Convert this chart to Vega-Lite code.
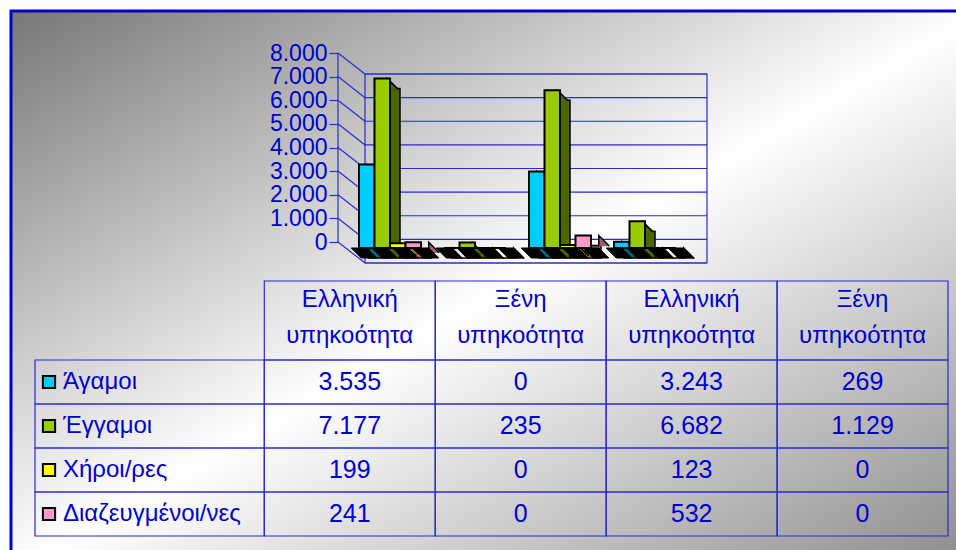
{
  "$schema": "https://vega.github.io/schema/vega-lite/v6.json",
  "width": 945,
  "height": 539,
  "autosize": {"type": "none"},
  "padding": {"left": 11, "top": 11, "right": 0, "bottom": 0},
  "background": "#ffffff",
  "config": {
    "view": {"stroke": "transparent", "strokeWidth": 0},
    "font": "Liberation Sans",
    "locale": {"number": {"decimal": ",", "thousands": ".", "grouping": [3], "currency": ["", " €"]}}
  },
  "datasets": {
    "one": [{"k": 1}],
    "grid": [{"g": 0}, {"g": 1000}, {"g": 2000}, {"g": 3000}, {"g": 4000}, {"g": 5000}, {"g": 6000}, {"g": 7000}, {"g": 8000}],
    "cells": [
      {"col": "c1", "status": "Άγαμοι", "value": 3535},
      {"col": "c2", "status": "Άγαμοι", "value": 0},
      {"col": "c3", "status": "Άγαμοι", "value": 3243},
      {"col": "c4", "status": "Άγαμοι", "value": 269},
      {"col": "c1", "status": "Έγγαμοι", "value": 7177},
      {"col": "c2", "status": "Έγγαμοι", "value": 235},
      {"col": "c3", "status": "Έγγαμοι", "value": 6682},
      {"col": "c4", "status": "Έγγαμοι", "value": 1129},
      {"col": "c1", "status": "Χήροι/ρες", "value": 199},
      {"col": "c2", "status": "Χήροι/ρες", "value": 0},
      {"col": "c3", "status": "Χήροι/ρες", "value": 123},
      {"col": "c4", "status": "Χήροι/ρες", "value": 0},
      {"col": "c1", "status": "Διαζευγμένοι/νες", "value": 241},
      {"col": "c2", "status": "Διαζευγμένοι/νες", "value": 0},
      {"col": "c3", "status": "Διαζευγμένοι/νες", "value": 532},
      {"col": "c4", "status": "Διαζευγμένοι/νες", "value": 0}
    ],
    "headers": [
      {"col": "c1", "h": "Ελληνική\nυπηκοότητα"},
      {"col": "c2", "h": "Ξένη\nυπηκοότητα"},
      {"col": "c3", "h": "Ελληνική\nυπηκοότητα"},
      {"col": "c4", "h": "Ξένη\nυπηκοότητα"}
    ]
  },
  "layer": [
    {
      "data": {"name": "one"},
      "mark": {"type": "rect", "stroke": "#0000cc", "strokeWidth": 3, "fill": {"gradient": "linear", "x1": 0, "y1": 0, "x2": 1, "y2": 1, "stops": [{"offset": 0, "color": "#777777"}, {"offset": 0.5, "color": "#ffffff"}, {"offset": 1, "color": "#888888"}]}},
      "encoding": {
        "x": {"datum": 0, "type": "quantitative", "scale": {"domain": [0, 1], "nice": false}, "axis": null},
        "x2": {"datum": 1.03},
        "y": {"datum": -0.04, "type": "quantitative", "scale": {"domain": [0, 1], "nice": false}, "axis": null},
        "y2": {"datum": 1}
      }
    },
    {
      "data": {"name": "one"},
      "mark": {"type": "rect", "fill": "transparent", "stroke": "#2a2ad0", "strokeWidth": 1.2},
      "encoding": {
        "x": {"datum": 0, "type": "quantitative", "scale": {"domain": [0, 1], "range": [354, 696], "nice": false}, "axis": null},
        "x2": {"datum": 1},
        "y": {"datum": 0, "type": "quantitative", "scale": {"domain": [0, 8000], "range": [252, 63], "nice": false}, "axis": null},
        "y2": {"datum": 8000}
      }
    },
    {
      "data": {"name": "grid"},
      "mark": {"type": "rule", "stroke": "#2a2ad0", "strokeWidth": 1.2},
      "encoding": {
        "x": {"datum": 0, "type": "quantitative", "scale": {"domain": [0, 1], "range": [354, 696], "nice": false}, "axis": null},
        "x2": {"datum": 1},
        "y": {"field": "g", "type": "quantitative", "scale": {"domain": [0, 8000], "range": [252, 63], "nice": false}, "axis": null}
      }
    },
    {
      "data": {"name": "grid"},
      "mark": {"type": "point", "shape": "M-1,-0.78L1,0.78", "size": 729, "filled": false, "stroke": "#2a2ad0", "strokeWidth": 1.2, "opacity": 1},
      "encoding": {
        "x": {"datum": 0.5, "type": "quantitative", "scale": {"domain": [0, 1], "range": [327, 354], "nice": false}, "axis": null},
        "y": {"field": "g", "type": "quantitative", "scale": {"domain": [0, 8000], "range": [241.5, 52.5], "nice": false}, "axis": null}
      }
    },
    {
      "data": {"name": "one"},
      "mark": {"type": "rule", "stroke": "#2a2ad0", "strokeWidth": 1.2},
      "encoding": {
        "x": {"datum": 0, "type": "quantitative", "scale": {"domain": [0, 1], "range": [327, 354], "nice": false}, "axis": null},
        "y": {"datum": 0, "type": "quantitative", "scale": {"domain": [0, 8000], "range": [231, 42], "nice": false},
          "axis": {"orient": "left", "offset": -327, "zindex": 2, "values": [0, 1000, 2000, 3000, 4000, 5000, 6000, 7000, 8000], "format": ",d", "labelFontSize": 23, "labelColor": "#0000cc", "labelFont": "Liberation Sans", "tickColor": "#2a2ad0", "tickSize": 9, "tickWidth": 1.2, "domain": false, "grid": false, "labelPadding": 2, "labelOverlap": false, "labelFlush": false, "labelBound": false, "title": null}},
        "y2": {"datum": 8000}
      }
    },
    {
      "data": {"name": "cells"},
      "mark": {"type": "bar", "stroke": "#000000", "strokeWidth": 1.5},
      "encoding": {
        "x": {"field": "col", "type": "nominal", "scale": {"type": "band", "domain": ["c1", "c2", "c3", "c4"], "range": [358, 675], "paddingInner": 0.2706, "paddingOuter": 0}, "axis": null},
        "xOffset": {"field": "status", "type": "nominal", "scale": {"domain": ["Άγαμοι", "Έγγαμοι", "Χήροι/ρες", "Διαζευγμένοι/νες"], "paddingInner": 0, "paddingOuter": 0}},
        "y": {"field": "value", "type": "quantitative", "stack": null, "scale": {"domain": [0, 8000], "range": [247, 58.2], "nice": false}, "axis": null},
        "color": {"field": "status", "type": "nominal", "scale": {"domain": ["Άγαμοι", "Έγγαμοι", "Χήροι/ρες", "Διαζευγμένοι/νες"], "range": ["#006680", "#4d6600", "#808000", "#a05a78"]}, "legend": null}
      }
    },
    {
      "data": {"name": "cells"},
      "mark": {"type": "point", "shape": "M7.75,10.8L7.75,0L17.75,10L17.75,10.8", "size": 4, "filled": true, "stroke": "#000000", "strokeWidth": 1.5, "opacity": 1},
      "encoding": {
        "x": {"field": "col", "type": "nominal", "scale": {"type": "band", "domain": ["c1", "c2", "c3", "c4"], "range": [348, 665], "paddingInner": 0.2706, "paddingOuter": 0}, "axis": null},
        "xOffset": {"field": "status", "type": "nominal", "scale": {"domain": ["Άγαμοι", "Έγγαμοι", "Χήροι/ρες", "Διαζευγμένοι/νες"], "paddingInner": 0, "paddingOuter": 0}},
        "y": {"field": "value", "type": "quantitative", "scale": {"domain": [0, 8000], "range": [237, 48.2], "nice": false}, "axis": null},
        "fill": {"field": "status", "type": "nominal", "scale": {"domain": ["Άγαμοι", "Έγγαμοι", "Χήροι/ρες", "Διαζευγμένοι/νες"], "range": ["#006680", "#4d6600", "#808000", "#a05a78"]}, "legend": null}
      }
    },
    {
      "data": {"name": "cells"},
      "mark": {"type": "point", "shape": "M-7.75,0L7.75,0L17.75,10L2.25,10Z", "size": 4, "filled": true, "fill": "#000000", "stroke": "#000000", "strokeWidth": 1, "opacity": 1},
      "encoding": {
        "x": {"field": "col", "type": "nominal", "scale": {"type": "band", "domain": ["c1", "c2", "c3", "c4"], "range": [348, 665], "paddingInner": 0.2706, "paddingOuter": 0}, "axis": null},
        "xOffset": {"field": "status", "type": "nominal", "scale": {"domain": ["Άγαμοι", "Έγγαμοι", "Χήροι/ρες", "Διαζευγμένοι/νες"], "paddingInner": 0, "paddingOuter": 0}},
        "y": {"datum": 0, "type": "quantitative", "scale": {"domain": [0, 8000], "range": [237, 48.2], "nice": false}, "axis": null}
      }
    },
    {
      "data": {"name": "cells"},
      "mark": {"type": "bar", "stroke": "#000000", "strokeWidth": 2},
      "encoding": {
        "x": {"field": "col", "type": "nominal", "scale": {"type": "band", "domain": ["c1", "c2", "c3", "c4"], "range": [348, 665], "paddingInner": 0.2706, "paddingOuter": 0}, "axis": null},
        "xOffset": {"field": "status", "type": "nominal", "scale": {"domain": ["Άγαμοι", "Έγγαμοι", "Χήροι/ρες", "Διαζευγμένοι/νες"], "paddingInner": 0, "paddingOuter": 0}},
        "y": {"field": "value", "type": "quantitative", "stack": null, "scale": {"domain": [0, 8000], "range": [237, 48.2], "nice": false}, "axis": null},
        "color": {"field": "status", "type": "nominal", "scale": {"domain": ["Άγαμοι", "Έγγαμοι", "Χήροι/ρες", "Διαζευγμένοι/νες"], "range": ["#00ccff", "#99cc00", "#ffff00", "#ff99cc"]}, "legend": null}
      }
    },
    {
      "data": {"name": "cells"},
      "mark": {"type": "rect", "fill": "transparent", "stroke": "#2b2bd0", "strokeWidth": 1.2},
      "encoding": {
        "x": {"field": "col", "type": "nominal", "scale": {"type": "band", "domain": ["c1", "c2", "c3", "c4"], "range": [253.3, 937], "paddingInner": 0, "paddingOuter": 0}, "axis": null},
        "y": {"field": "status", "type": "nominal", "scale": {"type": "band", "domain": ["Άγαμοι", "Έγγαμοι", "Χήροι/ρες", "Διαζευγμένοι/νες"], "range": [349, 525], "paddingInner": 0, "paddingOuter": 0}, "axis": null}
      }
    },
    {
      "data": {"name": "headers"},
      "mark": {"type": "rect", "fill": "transparent", "stroke": "#2b2bd0", "strokeWidth": 1.2},
      "encoding": {
        "x": {"field": "col", "type": "nominal", "scale": {"type": "band", "domain": ["c1", "c2", "c3", "c4"], "range": [253.3, 937], "paddingInner": 0, "paddingOuter": 0}, "axis": null},
        "y": {"datum": "h", "type": "nominal", "scale": {"type": "band", "domain": ["h"], "range": [270, 349], "paddingInner": 0, "paddingOuter": 0}, "axis": null}
      }
    },
    {
      "data": {"name": "cells"},
      "transform": [{"filter": "datum.col == 'c1'"}],
      "mark": {"type": "rect", "fill": "transparent", "stroke": "#2b2bd0", "strokeWidth": 1.2},
      "encoding": {
        "x": {"datum": "l", "type": "nominal", "scale": {"type": "band", "domain": ["l"], "range": [24, 253.3], "paddingInner": 0, "paddingOuter": 0}, "axis": null},
        "y": {"field": "status", "type": "nominal", "scale": {"type": "band", "domain": ["Άγαμοι", "Έγγαμοι", "Χήροι/ρες", "Διαζευγμένοι/νες"], "range": [349, 525], "paddingInner": 0, "paddingOuter": 0}, "axis": null}
      }
    },
    {
      "data": {"name": "cells"},
      "transform": [{"filter": "datum.col == 'c1'"}],
      "mark": {"type": "point", "shape": "square", "size": 150, "filled": true, "stroke": "#000000", "strokeWidth": 2, "opacity": 1},
      "encoding": {
        "x": {"datum": 0, "type": "quantitative", "scale": {"domain": [0, 1], "range": [38, 39], "nice": false}, "axis": null},
        "y": {"field": "status", "type": "nominal", "scale": {"type": "band", "domain": ["Άγαμοι", "Έγγαμοι", "Χήροι/ρες", "Διαζευγμένοι/νες"], "range": [349, 525], "paddingInner": 0, "paddingOuter": 0}, "axis": null},
        "fill": {"field": "status", "type": "nominal", "scale": {"domain": ["Άγαμοι", "Έγγαμοι", "Χήροι/ρες", "Διαζευγμένοι/νες"], "range": ["#00ccff", "#99cc00", "#ffff00", "#ff99cc"]}, "legend": null}
      }
    },
    {
      "data": {"name": "cells"},
      "transform": [{"filter": "datum.col == 'c1'"}],
      "mark": {"type": "text", "align": "left", "baseline": "middle", "fontSize": 24, "color": "#0000cc", "font": "Liberation Sans"},
      "encoding": {
        "x": {"datum": 0, "type": "quantitative", "scale": {"domain": [0, 1], "range": [52, 53], "nice": false}, "axis": null},
        "y": {"field": "status", "type": "nominal", "scale": {"type": "band", "domain": ["Άγαμοι", "Έγγαμοι", "Χήροι/ρες", "Διαζευγμένοι/νες"], "range": [349, 525], "paddingInner": 0, "paddingOuter": 0}, "axis": null},
        "text": {"field": "status", "type": "nominal"}
      }
    },
    {
      "data": {"name": "cells"},
      "mark": {"type": "text", "align": "center", "baseline": "middle", "fontSize": 25, "color": "#0000cc", "font": "Liberation Sans"},
      "encoding": {
        "x": {"field": "col", "type": "nominal", "scale": {"type": "band", "domain": ["c1", "c2", "c3", "c4"], "range": [253.3, 937], "paddingInner": 0, "paddingOuter": 0}, "axis": null},
        "y": {"field": "status", "type": "nominal", "scale": {"type": "band", "domain": ["Άγαμοι", "Έγγαμοι", "Χήροι/ρες", "Διαζευγμένοι/νες"], "range": [349, 525], "paddingInner": 0, "paddingOuter": 0}, "axis": null},
        "text": {"field": "value", "type": "quantitative", "format": ",d"}
      }
    },
    {
      "data": {"name": "headers"},
      "mark": {"type": "text", "align": "center", "baseline": "middle", "fontSize": 24, "lineBreak": "\n", "lineHeight": 36, "color": "#0000cc", "font": "Liberation Sans"},
      "encoding": {
        "x": {"field": "col", "type": "nominal", "scale": {"type": "band", "domain": ["c1", "c2", "c3", "c4"], "range": [253.3, 937], "paddingInner": 0, "paddingOuter": 0}, "axis": null},
        "y": {"datum": "h", "type": "nominal", "scale": {"type": "band", "domain": ["h"], "range": [250, 328], "paddingInner": 0, "paddingOuter": 0}, "axis": null},
        "text": {"field": "h", "type": "nominal"}
      }
    }
  ],
  "resolve": {
    "scale": {"x": "independent", "y": "independent", "color": "independent", "fill": "independent", "xOffset": "independent"},
    "axis": {"x": "independent", "y": "independent"}
  }
}
